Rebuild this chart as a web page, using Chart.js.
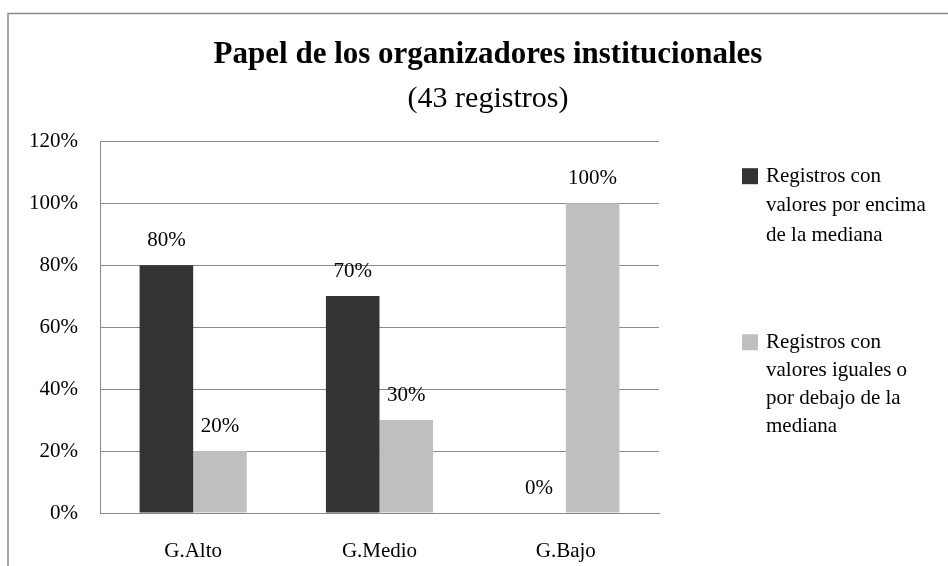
<!DOCTYPE html>
<html>
<head>
<meta charset="utf-8">
<script src="https://cdn.jsdelivr.net/npm/chart.js@4.4.1/dist/chart.umd.min.js"></script>
<style>
  html, body { margin: 0; padding: 0; background: #fff; overflow: hidden; }
</style>
</head>
<body>
<canvas id="chart" width="948" height="566"></canvas>
<script>
// data
var categories = ['G.Alto', 'G.Medio', 'G.Bajo'];
var aboveMedian = [80, 70, 0];
var belowMedian = [20, 30, 100];
var seriesLines = [
    ['Registros con', 'valores por encima', 'de la mediana'],
    ['Registros con', 'valores iguales o', 'por debajo de la', 'mediana']
];
var seriesColors = ['#333333', '#bfbfbf'];
var yMin = 0, yMax = 120, yStep = 20;

var serif = "'Liberation Serif', 'Times New Roman', serif";
var gridGray = '#888888';
var textSize = 21;

// grey frame around the chart (cut by the window on right and bottom)
var framePlugin = {
    id: 'frame',
    beforeDraw: function(chart) {
        var ctx = chart.ctx;
        ctx.save();
        ctx.fillStyle = '#fff';
        ctx.fillRect(0, 0, chart.width, chart.height);
        ctx.strokeStyle = '#8a8a8a';
        ctx.lineWidth = 1.5;
        ctx.strokeRect(8, 13.5, 2000, 2000);
        ctx.restore();
    }
};

// value labels above each bar
var valueLabels = {
    id: 'valueLabels',
    afterDatasetsDraw: function(chart) {
        var ctx = chart.ctx;
        ctx.save();
        ctx.font = textSize + 'px ' + serif;
        ctx.fillStyle = '#000';
        ctx.textAlign = 'center';
        ctx.textBaseline = 'middle';
        chart.data.datasets.forEach(function(ds, i) {
            chart.getDatasetMeta(i).data.forEach(function(bar, j) {
                ctx.fillText(ds.data[j] + '%', bar.x, bar.y - 25);
            });
        });
        ctx.restore();
    }
};

// legend drawn by hand so the labels can wrap like the original
var sideLegend = {
    id: 'sideLegend',
    afterDraw: function(chart) {
        var ctx = chart.ctx;
        var area = chart.chartArea;
        var x = area.right + 83;
        var starts = [area.top + 35, area.top + 201];
        var lineH = [29.5, 28];
        ctx.save();
        ctx.font = textSize + 'px ' + serif;
        ctx.textAlign = 'left';
        ctx.textBaseline = 'middle';
        chart.data.datasets.forEach(function(ds, i) {
            var y = starts[i];
            ctx.fillStyle = ds.backgroundColor;
            ctx.fillRect(x, y - 8, 16, 16);
            ctx.fillStyle = '#000';
            seriesLines[i].forEach(function(line, k) {
                ctx.fillText(line, x + 24, y + k * lineH[i]);
            });
        });
        ctx.restore();
    }
};

var ctx = document.getElementById('chart').getContext('2d');
var chart = new Chart(ctx, {
    type: 'bar',
    data: {
        labels: categories,
        datasets: [{
            label: seriesLines[0].join(' '),
            data: aboveMedian,
            backgroundColor: seriesColors[0],
            categoryPercentage: 0.575,
            barPercentage: 1.0
        }, {
            label: seriesLines[1].join(' '),
            data: belowMedian,
            backgroundColor: seriesColors[1],
            categoryPercentage: 0.575,
            barPercentage: 1.0
        }]
    },
    options: {
        responsive: false,
        animation: false,
        layout: { padding: { left: 28, right: 0, top: 0, bottom: 0 } },
        plugins: {
            legend: { display: false },
            tooltip: { enabled: false },
            title: {
                display: true,
                text: 'Papel de los organizadores institucionales',
                color: '#000',
                font: { family: serif, size: 31, weight: 'bold' },
                padding: { top: 36, bottom: 0 }
            },
            subtitle: {
                display: true,
                text: '(43 registros)',
                color: '#000',
                font: { family: serif, size: 30 },
                padding: { top: 8, bottom: 24 }
            }
        },
        scales: {
            x: {
                grid: { display: false },
                border: { display: true, color: gridGray, width: 1 },
                ticks: { color: '#000', font: { family: serif, size: textSize }, padding: 18 },
                afterFit: function(s) { s.height = 53; }
            },
            y: {
                min: yMin,
                max: yMax,
                grid: { color: gridGray, drawTicks: false },
                border: { display: true, color: gridGray, width: 1 },
                ticks: {
                    stepSize: yStep,
                    color: '#000',
                    padding: 22,
                    font: { family: serif, size: textSize },
                    callback: function(v) { return v + '%'; }
                },
                afterFit: function(s) { s.width = 72; }
            },
            y2: {
                position: 'right',
                grid: { display: false },
                border: { display: false },
                ticks: { display: false },
                afterFit: function(s) { s.width = 289; }
            }
        }
    },
    plugins: [framePlugin, valueLabels, sideLegend]
});
</script>
</body>
</html>
